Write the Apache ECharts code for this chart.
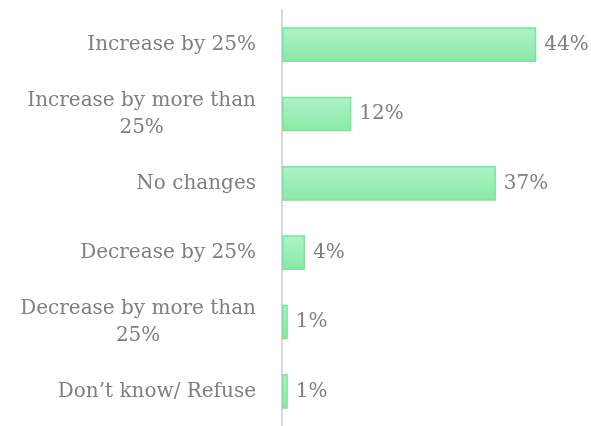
<!DOCTYPE html>
<html>
<head>
<meta charset="utf-8">
<script src="https://cdn.jsdelivr.net/npm/echarts@6/dist/echarts.min.js"></script>
<style>
  html, body { margin: 0; padding: 0; background: #ffffff; }
  #chart { width: 591px; height: 426px; }
</style>
</head>
<body>
<div id="chart"></div>
<script>
// Survey answers, listed top to bottom
const categories = [
  'Increase by 25%',
  'Increase by more than\n25%',
  'No changes',
  'Decrease by 25%',
  'Decrease by more than\n25%',
  'Don\u2019t know/ Refuse'
];
// Share of respondents, percent
const shares = [44, 12, 37, 4, 1, 1];

const FONT = '"DejaVu Serif", "Liberation Serif", serif';
const GREY = '#7f7f7f';
const SIZE = 20;
const LINE = 27;

const chart = echarts.init(document.getElementById('chart'), null, { renderer: 'canvas' });

chart.setOption({
  backgroundColor: '#ffffff',
  animation: false,
  grid: { left: 282, top: 10, height: 420, right: 20 },
  xAxis: {
    type: 'value',
    min: 0,
    max: 50,
    show: false
  },
  yAxis: {
    type: 'category',
    inverse: true,
    data: categories,
    axisLine: { show: true, lineStyle: { color: '#d9d9d9', width: 2 } },
    axisTick: { show: false },
    splitLine: { show: false },
    axisLabel: {
      margin: 26,
      color: GREY,
      fontFamily: FONT,
      fontSize: SIZE,
      lineHeight: LINE,
      formatter: function (v) {
        return v.split('\n').map(function (s) { return '{c|' + s + '}'; }).join('\n');
      },
      rich: {
        c: { align: 'center', color: GREY, fontFamily: FONT, fontSize: SIZE, lineHeight: LINE }
      }
    }
  },
  series: [{
    type: 'bar',
    data: shares,
    barWidth: '50%',
    itemStyle: {
      color: new echarts.graphic.LinearGradient(0, 0, 0, 1, [
        { offset: 0, color: '#aef3c7' },
        { offset: 1, color: '#8ae8a7' }
      ]),
      borderColor: '#7ee19c',
      borderWidth: 1.5
    },
    label: {
      show: true,
      position: 'right',
      distance: 8,
      color: GREY,
      fontFamily: FONT,
      fontSize: SIZE,
      formatter: '{c}%'
    }
  }]
});
</script>
</body>
</html>
